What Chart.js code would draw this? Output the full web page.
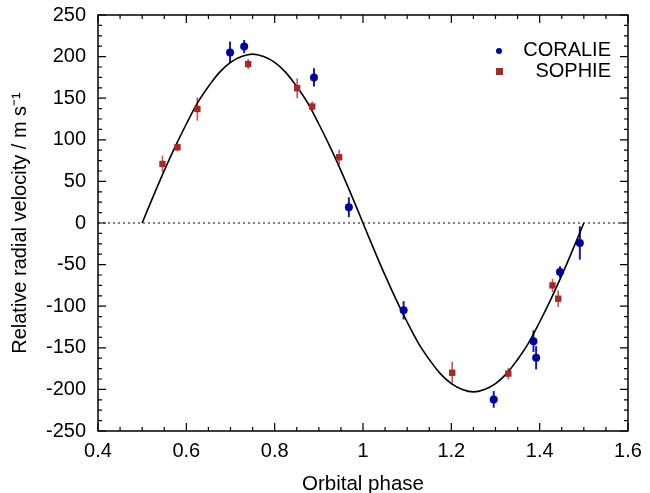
<html>
<script src="https://cdn.jsdelivr.net/npm/chart.js"></script>
<body style="margin:0;background:#fff;">
<div style="width:650px;height:493px;">
	<canvas id="rv" width="650" height="493"></canvas>
</div>
<script>
// CORALIE measurements
var coraliePhase = [0.699, 0.731, 0.889, 0.968, 1.092, 1.296, 1.386, 1.392, 1.446, 1.491];
var coralieRV    = [205, 212, 175, 19, -105, -212, -142, -162, -59, -24];
var coralieErr   = [13, 8, 11, 12, 11, 10, 13, 14, 7, 20];

// SOPHIE measurements
var sophiePhase = [0.546, 0.580, 0.625, 0.740, 0.851, 0.885, 0.946, 1.202, 1.329, 1.429, 1.442];
var sophieRV    = [71, 91, 137, 191, 162, 140, 79, -180, -181, -75, -91];
var sophieErr   = [10, 5, 14, 6, 12, 6, 9, 13, 7, 8, 10];

// orbit model
var modelPhase = [0.5, 0.525, 0.55, 0.575, 0.6, 0.625, 0.65, 0.675, 0.7, 0.725, 0.75,
	0.775, 0.8, 0.825, 0.85, 0.875, 0.9, 0.925, 0.95, 0.975, 1.0,
	1.025, 1.05, 1.075, 1.1, 1.125, 1.15, 1.175, 1.2, 1.225, 1.25,
	1.275, 1.3, 1.325, 1.35, 1.375, 1.4, 1.425, 1.45, 1.475, 1.5];
var modelRV = [0, 32, 63, 92, 119, 144, 164, 181, 193, 200, 203,
	200, 193, 181, 164, 144, 119, 92, 63, 32, 0,
	-32, -63, -92, -119, -144, -164, -181, -193, -200, -203,
	-200, -193, -181, -164, -144, -119, -92, -63, -32, 0];

var zeroPhase = [0.4, 1.6];
var zeroRV = [0, 0];

function pts(xs, ys) {
	var out = [];
	for (var i = 0; i < xs.length; i++) out.push({x: xs[i], y: ys[i]});
	return out;
}

var font = "'Liberation Sans', Arial, sans-serif";

var errorBars = {
	id: 'errorBars',
	beforeDatasetsDraw: function(chart) {
		var ctx = chart.ctx, xs = chart.scales.x, ys = chart.scales.y;
		function draw(ph, rv, er, col, w) {
			ctx.save();
			ctx.strokeStyle = col;
			ctx.lineWidth = w;
			for (var i = 0; i < ph.length; i++) {
				var px = xs.getPixelForValue(ph[i]);
				ctx.beginPath();
				ctx.moveTo(px, ys.getPixelForValue(rv[i] - er[i]));
				ctx.lineTo(px, ys.getPixelForValue(rv[i] + er[i]));
				ctx.stroke();
			}
			ctx.restore();
		}
		draw(coraliePhase, coralieRV, coralieErr, '#1a1aa8', 2);
		draw(sophiePhase, sophieRV, sophieErr, '#d05050', 1.6);
	}
};

var frame = {
	id: 'frame',
	afterDraw: function(chart) {
		var ctx = chart.ctx, a = chart.chartArea;
		ctx.save();
		ctx.strokeStyle = '#000';
		ctx.lineWidth = 1.5;
		ctx.strokeRect(a.left, a.top, a.right - a.left, a.bottom - a.top);
		ctx.lineWidth = 1.2;
		var xs = chart.scales.x;
		xs.ticks.forEach(function(t) {
			var px = xs.getPixelForValue(t.value);
			var len = t.label !== '' ? 8 : 4;
			ctx.beginPath();
			ctx.moveTo(px, a.bottom); ctx.lineTo(px, a.bottom - len);
			ctx.moveTo(px, a.top); ctx.lineTo(px, a.top + len);
			ctx.stroke();
		});
		var ys = chart.scales.y;
		ys.ticks.forEach(function(t) {
			var py = ys.getPixelForValue(t.value);
			var len = t.label !== '' ? 8 : 4;
			ctx.beginPath();
			ctx.moveTo(a.left, py); ctx.lineTo(a.left + len, py);
			ctx.moveTo(a.right, py); ctx.lineTo(a.right - len, py);
			ctx.stroke();
		});

		// legend
		ctx.font = '20px ' + font;
		ctx.fillStyle = '#000';
		ctx.textAlign = 'right';
		ctx.textBaseline = 'middle';
		ctx.fillText('CORALIE', 611, 50);
		ctx.fillText('SOPHIE', 611, 71);
		ctx.fillStyle = '#00009a';
		ctx.beginPath();
		ctx.arc(499, 51, 3, 0, Math.PI * 2);
		ctx.fill();
		ctx.fillStyle = '#a82828';
		ctx.fillRect(496, 68, 7, 7);
		ctx.restore();
	}
};

new Chart(document.getElementById('rv'), {
	type: 'scatter',
	data: {
		datasets: [
			{
				label: 'CORALIE',
				data: pts(coraliePhase, coralieRV),
				pointStyle: 'circle',
				pointRadius: 4,
				pointBackgroundColor: '#00009a',
				pointBorderWidth: 0,
				order: 1
			},
			{
				label: 'SOPHIE',
				data: pts(sophiePhase, sophieRV),
				pointStyle: 'rect',
				pointRadius: 4.5,
				pointBackgroundColor: '#a82828',
				pointBorderWidth: 0,
				order: 0
			},
			{
				label: 'model',
				type: 'line',
				data: pts(modelPhase, modelRV),
				borderColor: '#000',
				borderWidth: 1.6,
				pointRadius: 0,
				tension: 0.4,
				fill: false,
				order: 2
			},
			{
				label: 'zero',
				type: 'line',
				data: pts(zeroPhase, zeroRV),
				borderColor: '#000',
				borderWidth: 1,
				borderDash: [2, 3],
				pointRadius: 0,
				fill: false,
				order: 3
			}
		]
	},
	options: {
		animation: false,
		responsive: false,
		layout: {padding: {left: 0, right: 22, top: 15, bottom: -4}},
		plugins: {legend: {display: false}, tooltip: {enabled: false}},
		scales: {
			x: {
				type: 'linear',
				min: 0.4, max: 1.6,
				grid: {display: false, drawTicks: false},
				border: {display: false},
				afterFit: function(s) { s.height = 66; s.paddingLeft = 0; s.paddingRight = 0; },
				ticks: {
					stepSize: 0.05,
					autoSkip: false,
					maxRotation: 0,
					padding: 8,
					color: '#000',
					font: {family: font, size: 20},
					callback: function(v) {
						var r = Math.round(v * 5);
						if (Math.abs(v * 5 - r) > 1e-6) return '';
						return String(Math.round(v * 10) / 10);
					}
				},
				title: {display: true, text: 'Orbital phase', color: '#000', padding: {top: 4, bottom: 0}, font: {family: font, size: 20.5}}
			},
			y: {
				min: -250, max: 250,
				grid: {display: false, drawTicks: false},
				border: {display: false},
				afterFit: function(s) { s.width = 98; s.paddingTop = 0; s.paddingBottom = 0; },
				ticks: {
					stepSize: 12.5,
					autoSkip: false,
					padding: 12,
					color: '#000',
					font: {family: font, size: 20},
					callback: function(v) {
						return (Math.abs(v % 50) < 1e-6) ? String(v) : '';
					}
				},
				title: {display: true, text: 'Relative radial velocity / m s\u207B\u00B9', color: '#000', padding: {top: 8, bottom: 0}, font: {family: font, size: 20}}
			}
		}
	},
	plugins: [errorBars, frame]
});
</script>
</body>
</html>
